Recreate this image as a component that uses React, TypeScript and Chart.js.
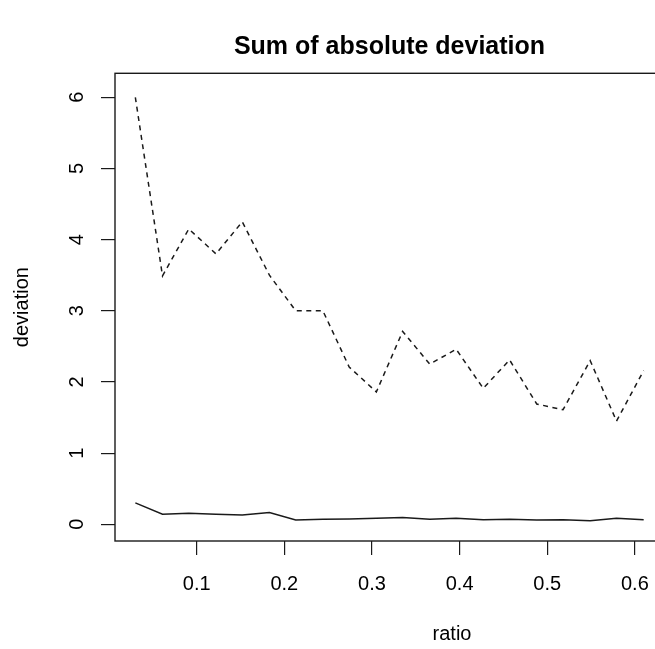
import React, { useEffect, useRef } from "react";
import { Chart, registerables } from "chart.js";

Chart.register(...registerables);

const ratio = [0.030, 0.061, 0.091, 0.122, 0.152, 0.183, 0.213, 0.244, 0.274, 0.305, 0.335, 0.366, 0.396, 0.427, 0.457, 0.488, 0.518, 0.549, 0.579, 0.610];
const dashedDeviation = [6.0, 3.49, 4.15, 3.80, 4.25, 3.50, 3.00, 3.00, 2.21, 1.86, 2.71, 2.25, 2.46, 1.91, 2.31, 1.69, 1.61, 2.30, 1.45, 2.16];
const solidDeviation = [0.30, 0.14, 0.155, 0.14, 0.13, 0.165, 0.06, 0.07, 0.075, 0.085, 0.095, 0.07, 0.085, 0.065, 0.07, 0.06, 0.065, 0.05, 0.085, 0.065];
const xTicks = [0.1, 0.2, 0.3, 0.4, 0.5, 0.6];
const yTicks = [0, 1, 2, 3, 4, 5, 6];
const xLabel = "ratio";

const FONT = "'Liberation Sans', Arial, Helvetica, sans-serif";
const INK = "#1a1a1a";

const boxPlugin = {
  id: "rbox",
  afterDraw(chart: any) {
    const { ctx, chartArea } = chart;
    ctx.save();
    ctx.strokeStyle = INK;
    ctx.lineWidth = 1.4;
    ctx.strokeRect(chartArea.left, chartArea.top, chartArea.right - chartArea.left, chartArea.bottom - chartArea.top);
    // x axis label, placed as in the reference
    ctx.fillStyle = "#000";
    ctx.font = `20px ${FONT}`;
    ctx.textAlign = "center";
    ctx.textBaseline = "middle";
    ctx.fillText(xLabel, 452, 634);
    ctx.restore();
  },
};

export default function App() {
  const ref = useRef<HTMLCanvasElement | null>(null);
  useEffect(() => {
    const canvas = ref.current;
    if (!canvas) return;
    const chart = new Chart(canvas, {
      type: "line",
      data: {
        datasets: [
          {
            data: ratio.map((x, i) => ({ x, y: dashedDeviation[i] })),
            borderColor: INK,
            borderWidth: 1.5,
            borderDash: [5, 4.5],
            pointRadius: 0,
            fill: false,
            tension: 0,
          },
          {
            data: ratio.map((x, i) => ({ x, y: solidDeviation[i] })),
            borderColor: INK,
            borderWidth: 1.5,
            pointRadius: 0,
            fill: false,
            tension: 0,
          },
        ],
      },
      options: {
        animation: false,
        responsive: false,
        layout: { padding: { left: 0, top: 0, right: 16, bottom: 0 } },
        plugins: {
          legend: { display: false },
          tooltip: { enabled: false },
          title: {
            display: true,
            text: "Sum of absolute deviation",
            color: "#000",
            font: { family: FONT, size: 25, weight: "bold", lineHeight: 1.2 },
            padding: { top: 32, bottom: 11.3 },
            fullSize: false,
          },
        },
        scales: {
          x: {
            type: "linear",
            position: "bottom",
            min: 0.0068,
            max: 0.6332,
            afterBuildTicks: (s: any) => {
              s.ticks = xTicks.map((v) => ({ value: v }));
            },
            afterFit: (s: any) => {
              s.height = 108;
            },
            grid: { drawOnChartArea: false, drawTicks: true, tickLength: 14, color: INK, lineWidth: 1.2 },
            border: { display: false },
            ticks: {
              autoSkip: false,
              maxRotation: 0,
              minRotation: 0,
              padding: 17,
              color: "#000",
              font: { family: FONT, size: 20 },
            },
            title: { display: false },
          },
          y: {
            type: "linear",
            position: "left",
            min: -0.235,
            max: 6.337,
            afterBuildTicks: (s: any) => {
              s.ticks = yTicks.map((v) => ({ value: v }));
            },
            afterFit: (s: any) => {
              s.width = 115;
            },
            grid: { drawOnChartArea: false, drawTicks: true, tickLength: 14, color: INK, lineWidth: 1.2 },
            border: { display: false },
            ticks: {
              autoSkip: false,
              minRotation: 90,
              maxRotation: 90,
              crossAlign: "center",
              padding: 18.4,
              color: "#000",
              font: { family: FONT, size: 20 },
            },
            title: {
              display: true,
              text: "deviation",
              color: "#000",
              font: { family: FONT, size: 20 },
              padding: { top: 10.5, bottom: 0 },
            },
          },
        },
      },
      plugins: [boxPlugin],
    } as any);
    return () => chart.destroy();
  }, []);

  return (
    <div
      style={{
        position: "fixed",
        left: 0,
        top: 0,
        width: 655,
        height: 649,
        overflow: "hidden",
        background: "#fff",
      }}
    >
      <canvas ref={ref} width={680} height={649} style={{ display: "block", width: 680, height: 649 }} />
    </div>
  );
}
